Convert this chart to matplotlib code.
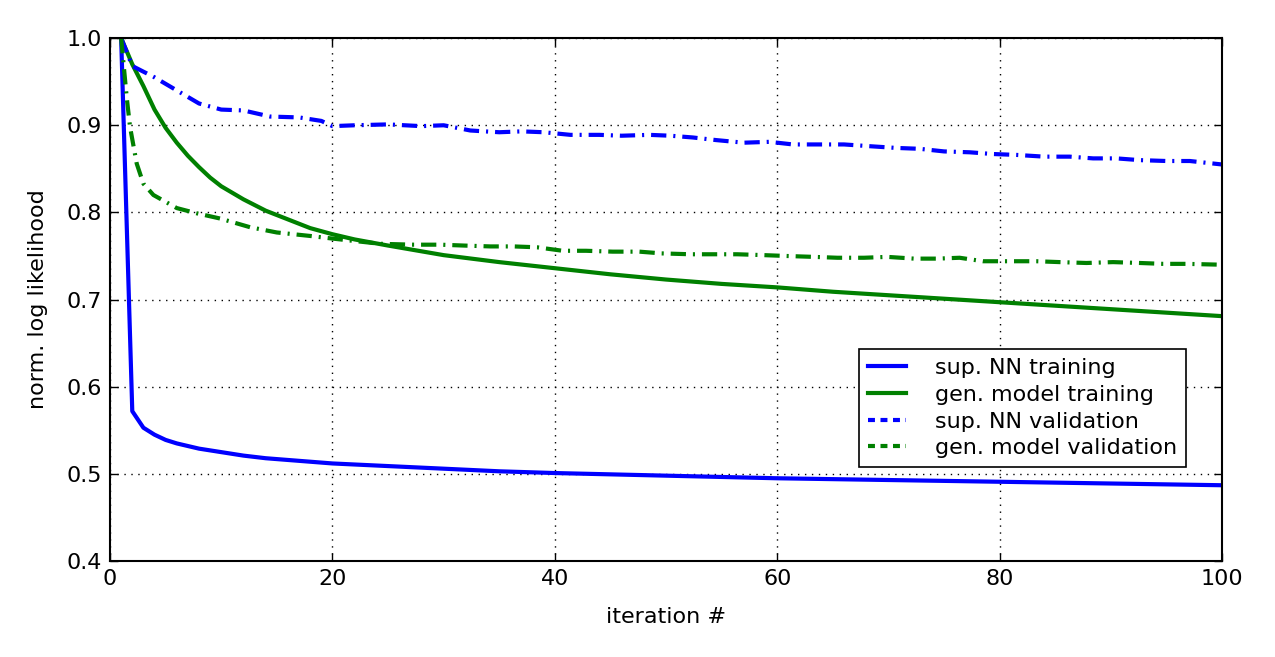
import matplotlib
matplotlib.use('Agg')
import matplotlib.pyplot as plt
from matplotlib.lines import Line2D

# sup. NN training
nn_train_x = [1, 2, 3, 4, 5, 6, 7, 8, 10, 12, 14, 16, 18, 20, 25, 30, 35, 40, 50, 60, 70, 80, 90, 100]
nn_train_y = [1.0, 0.572, 0.553, 0.545, 0.539, 0.535, 0.532, 0.529, 0.525, 0.521, 0.518, 0.516, 0.514,
              0.512, 0.509, 0.506, 0.503, 0.501, 0.498, 0.495, 0.493, 0.491, 0.489, 0.487]

# gen. model training
gen_train_x = [1, 2, 3, 4, 5, 6, 7, 8, 9, 10, 12, 14, 16, 18, 20, 22, 25, 30, 35, 40, 45, 50,
               55, 60, 65, 70, 75, 80, 85, 90, 95, 100]
gen_train_y = [1.0, 0.97, 0.945, 0.918, 0.897, 0.88, 0.865, 0.852, 0.84, 0.83, 0.815, 0.802, 0.792,
               0.782, 0.775, 0.769, 0.762, 0.751, 0.743, 0.736, 0.729, 0.723, 0.718, 0.714, 0.709,
               0.705, 0.701, 0.697, 0.693, 0.689, 0.685, 0.681]

# sup. NN validation
nn_val_x = [1, 2, 4, 6, 8, 10, 12, 14.4, 17, 19, 20, 22, 25, 28, 30, 32.4, 35, 37, 39, 41.4, 44, 46,
            48.5, 50.4, 52.4, 54.5, 57, 59.3, 61.4, 64, 66, 68.3, 70.7, 72.8, 75, 77.3, 79.4, 81.5,
            84, 86.3, 88.4, 90.5, 92.6, 95, 97.1, 100]
nn_val_y = [1.0, 0.968, 0.955, 0.94, 0.925, 0.918, 0.917, 0.910, 0.909, 0.905, 0.899, 0.9, 0.901, 0.899,
            0.9, 0.894, 0.892, 0.893, 0.892, 0.889, 0.889, 0.888, 0.889, 0.888, 0.886, 0.883, 0.880,
            0.881, 0.878, 0.878, 0.878, 0.876, 0.874, 0.873, 0.870, 0.869, 0.867, 0.866, 0.864, 0.864,
            0.862, 0.862, 0.860, 0.859, 0.859, 0.855]

# gen. model validation
gen_val_x = [1, 1.5, 1.8, 2.4, 3, 3.9, 6, 7.8, 9.9, 12.6, 15, 18, 20, 24.3, 27.3, 29.7, 31.8, 34.2,
             36.3, 38.4, 40.7, 42.8, 45.2, 47.6, 49.6, 52.2, 54.3, 56.4, 58.8, 60.9, 63.3, 65.4,
             67.8, 69.9, 72.3, 74.4, 76.4, 78.5, 80.8, 83.3, 85.4, 87.8, 90.2, 92.6, 94.7, 96.8, 100]
gen_val_y = [1.0, 0.932, 0.898, 0.856, 0.833, 0.82, 0.805, 0.799, 0.793, 0.783, 0.777, 0.773, 0.770,
             0.764, 0.763, 0.763, 0.762, 0.761, 0.761, 0.760, 0.756, 0.756, 0.755, 0.755, 0.753,
             0.752, 0.752, 0.752, 0.751, 0.750, 0.749, 0.748, 0.748, 0.749, 0.747, 0.747, 0.748,
             0.744, 0.744, 0.744, 0.743, 0.742, 0.743, 0.742, 0.741, 0.741, 0.740]

labels = ['sup. NN training', 'gen. model training', 'sup. NN validation', 'gen. model validation']
x_ticks = [0, 20, 40, 60, 80, 100]
y_ticks = [0.4, 0.5, 0.6, 0.7, 0.8, 0.9, 1.0]

plt.rcParams['font.family'] = 'DejaVu Sans'
plt.rcParams['lines.scale_dashes'] = False

fig = plt.figure(figsize=(12.75, 6.57), dpi=100)
ax = fig.add_axes([0.0863, 0.146, 0.8722, 0.796])

blue = '#0000ff'
green = '#008000'
lw = 3
dashdot = (0, (11, 5, 1.5, 5))

ax.plot(nn_train_x, nn_train_y, color=blue, lw=lw)
ax.plot(gen_train_x, gen_train_y, color=green, lw=lw)
ax.plot(nn_val_x, nn_val_y, color=blue, lw=lw, linestyle=dashdot)
ax.plot(gen_val_x, gen_val_y, color=green, lw=lw, linestyle=dashdot)

ax.set_xlim(0, 100)
ax.set_ylim(0.4, 1.0)
ax.set_xticks(x_ticks)
ax.set_yticks(y_ticks)
ax.set_yticklabels([f'{v:.1f}' for v in y_ticks])
ax.tick_params(direction='in', top=True, right=True, length=6, width=1, labelsize=16, pad=6)
ax.grid(True, color='black', linestyle=(0, (1, 4)), linewidth=1)
for s in ax.spines.values():
    s.set_linewidth(1.5)

ax.set_xlabel('iteration #', fontsize=16, labelpad=13)
ax.set_ylabel('norm. log likelihood', fontsize=16, labelpad=13)

dash = (0, (5, 4))
handles = [Line2D([], [], color=blue, lw=lw),
           Line2D([], [], color=green, lw=lw),
           Line2D([], [], color=blue, lw=lw, linestyle=dash),
           Line2D([], [], color=green, lw=lw, linestyle=dash)]
leg = ax.legend(handles, labels, loc='lower right', bbox_to_anchor=(0.9676, 0.1797),
                borderaxespad=0, fontsize=16, fancybox=False, framealpha=1,
                handlelength=1.7, handletextpad=1.3, labelspacing=0.3, borderpad=0.4)
leg.get_frame().set_edgecolor('black')
leg.get_frame().set_linewidth(1.2)

fig.savefig('out.png', dpi=100)
